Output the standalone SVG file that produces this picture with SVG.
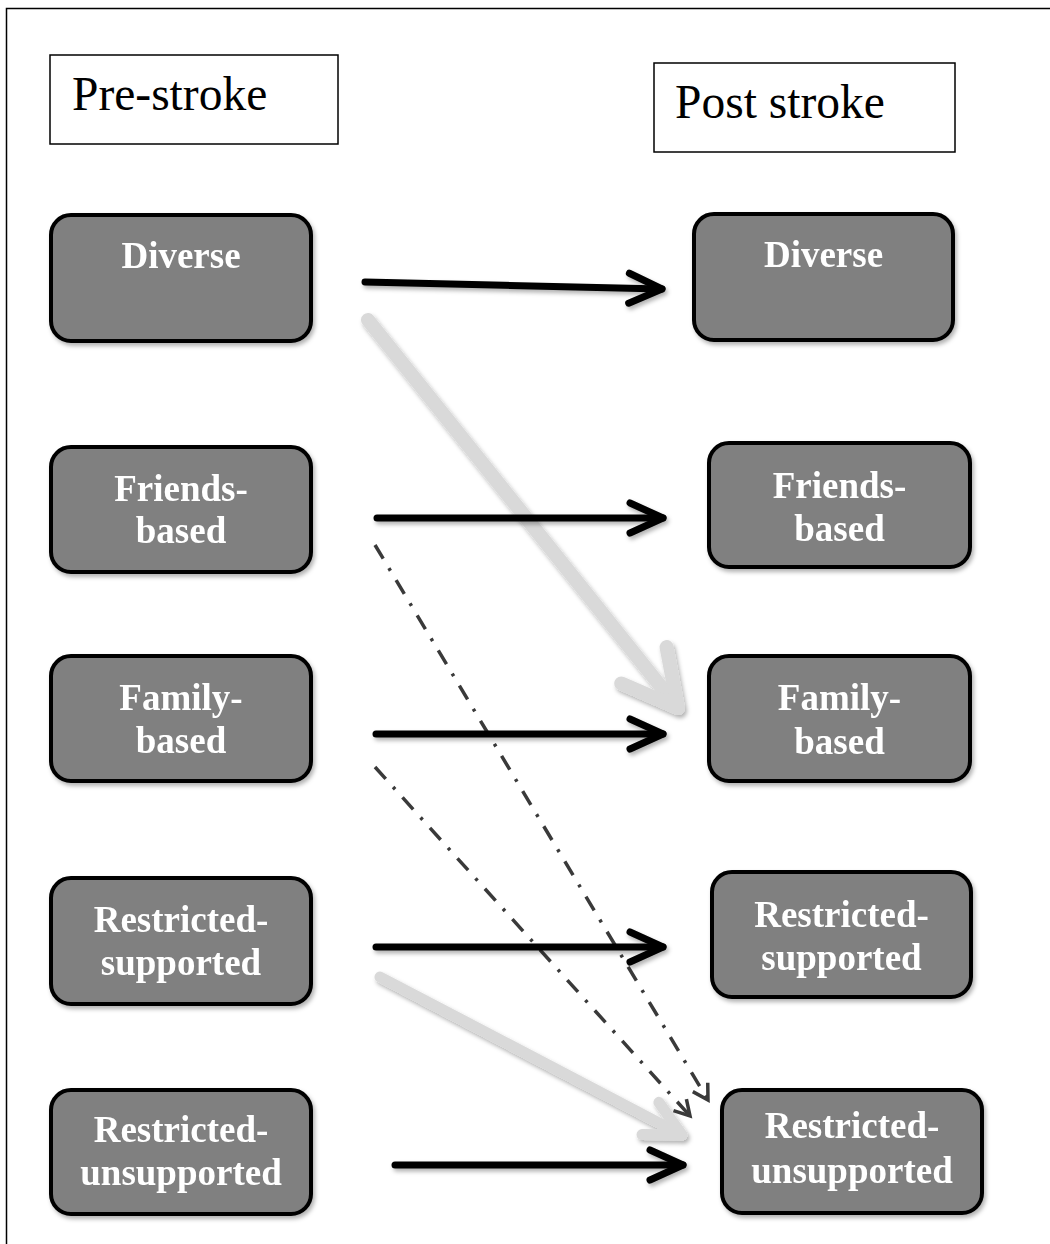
<svg xmlns="http://www.w3.org/2000/svg" width="1050" height="1244" viewBox="0 0 1050 1244">
  <style>
    .frame { fill: none; stroke: #000; stroke-width: 1.5; }
    .hdr { fill: #fff; stroke: #000; stroke-width: 1.5; }
    .hdrtxt { font-family: "Liberation Serif", "Times New Roman", serif; font-size: 47.5px; fill: #000; }
    .node rect { fill: #808080; stroke: #000; stroke-width: 4; }
    .node text { font-family: "Liberation Serif", "Times New Roman", serif; font-size: 37px; font-weight: bold; fill: #fff; text-anchor: middle; }
    .blk { fill: none; stroke: #000; stroke-width: 7; stroke-linecap: round; stroke-linejoin: round; }
    .gry { fill: none; stroke: #d9d9d9; stroke-linecap: round; stroke-linejoin: round; }
    .dsh { fill: none; stroke: #3a3a3a; stroke-width: 3.5; stroke-dasharray: 16 11 3 11; }
  </style>
  <defs>
    <filter id="sh" filterUnits="userSpaceOnUse" x="0" y="0" width="1050" height="1244">
      <feDropShadow dx="2" dy="3" stdDeviation="2" flood-color="#000" flood-opacity="0.3"/>
    </filter>
    <marker id="mBlk" markerUnits="userSpaceOnUse" orient="auto" overflow="visible" markerWidth="1" markerHeight="1" refX="0" refY="0">
      <path d="M-33,-15 L0,0 L-33,15" fill="none" stroke="#000" stroke-width="7" stroke-linecap="round" stroke-linejoin="round"/>
    </marker>
    <marker id="mGry1" markerUnits="userSpaceOnUse" orient="auto" overflow="visible" markerWidth="1" markerHeight="1" refX="0" refY="0">
      <path d="M-54.7,-29.1 L0,0 L-54.7,29.1" fill="none" stroke="#d9d9d9" stroke-width="14" stroke-linecap="round" stroke-linejoin="round"/>
    </marker>
    <marker id="mGry2" markerUnits="userSpaceOnUse" orient="auto" overflow="visible" markerWidth="1" markerHeight="1" refX="0" refY="0">
      <path d="M-35.6,-18.2 L0,0 L-35.6,18.2" fill="none" stroke="#d9d9d9" stroke-width="11" stroke-linecap="round" stroke-linejoin="round"/>
    </marker>
    <marker id="mDsh" markerUnits="userSpaceOnUse" orient="auto" overflow="visible" markerWidth="1" markerHeight="1" refX="0" refY="0">
      <path d="M-15,-8.7 L0,0 L-15,8.7" fill="none" stroke="#3a3a3a" stroke-width="3.5"/>
    </marker>
  </defs>

  <rect width="1050" height="1244" fill="#fff"/>
  <path class="frame" d="M6.5,1244 V8.5 H1050"/>

  <g id="hdr-pre">
    <rect class="hdr" x="50" y="55" width="288" height="89"/>
    <text class="hdrtxt" x="72" y="110">Pre-stroke</text>
  </g>
  <g id="hdr-post">
    <rect class="hdr" x="654" y="63" width="301" height="89"/>
    <text class="hdrtxt" x="675" y="118">Post stroke</text>
  </g>

  <g id="connectors">
    <path class="gry" stroke-width="14" filter="url(#sh)" d="M368,320 L678,708" marker-end="url(#mGry1)"/>
    <path class="gry" stroke-width="11" filter="url(#sh)" d="M380,977 L682,1135" marker-end="url(#mGry2)"/>
    <path class="dsh" d="M375,545 L708,1100" marker-end="url(#mDsh)"/>
    <path class="dsh" d="M375,767 L690,1116" marker-end="url(#mDsh)"/>
    <path class="blk" filter="url(#sh)" d="M365,282 L662,289" marker-end="url(#mBlk)"/>
    <path class="blk" filter="url(#sh)" d="M377,518 L663,518" marker-end="url(#mBlk)"/>
    <path class="blk" filter="url(#sh)" d="M376,734 L663,734" marker-end="url(#mBlk)"/>
    <path class="blk" filter="url(#sh)" d="M376,947 L663,947" marker-end="url(#mBlk)"/>
    <path class="blk" filter="url(#sh)" d="M395,1165 L683,1165" marker-end="url(#mBlk)"/>
  </g>

  <g id="pre-diverse" class="node" filter="url(#sh)">
    <rect x="51" y="215" width="260" height="126" rx="20"/>
    <text x="181" y="268">Diverse</text>
  </g>
  <g id="pre-friends" class="node" filter="url(#sh)">
    <rect x="51" y="447" width="260" height="125" rx="20"/>
    <text x="181" y="501">Friends-</text>
    <text x="181" y="543">based</text>
  </g>
  <g id="pre-family" class="node" filter="url(#sh)">
    <rect x="51" y="656" width="260" height="125" rx="20"/>
    <text x="181" y="710">Family-</text>
    <text x="181" y="753">based</text>
  </g>
  <g id="pre-restricted-supported" class="node" filter="url(#sh)">
    <rect x="51" y="878" width="260" height="126" rx="20"/>
    <text x="181" y="932">Restricted-</text>
    <text x="181" y="975">supported</text>
  </g>
  <g id="pre-restricted-unsupported" class="node" filter="url(#sh)">
    <rect x="51" y="1090" width="260" height="124" rx="20"/>
    <text x="181" y="1142">Restricted-</text>
    <text x="181" y="1185">unsupported</text>
  </g>

  <g id="post-diverse" class="node" filter="url(#sh)">
    <rect x="694" y="214" width="259" height="126" rx="20"/>
    <text x="823.5" y="267">Diverse</text>
  </g>
  <g id="post-friends" class="node" filter="url(#sh)">
    <rect x="709" y="443" width="261" height="124" rx="20"/>
    <text x="839.5" y="498">Friends-</text>
    <text x="839.5" y="541">based</text>
  </g>
  <g id="post-family" class="node" filter="url(#sh)">
    <rect x="709" y="656" width="261" height="125" rx="20"/>
    <text x="839.5" y="710">Family-</text>
    <text x="839.5" y="754">based</text>
  </g>
  <g id="post-restricted-supported" class="node" filter="url(#sh)">
    <rect x="712" y="872" width="259" height="125" rx="20"/>
    <text x="841.5" y="927">Restricted-</text>
    <text x="841.5" y="970">supported</text>
  </g>
  <g id="post-restricted-unsupported" class="node" filter="url(#sh)">
    <rect x="722" y="1090" width="260" height="123" rx="20"/>
    <text x="852" y="1138">Restricted-</text>
    <text x="852" y="1183">unsupported</text>
  </g>
</svg>
